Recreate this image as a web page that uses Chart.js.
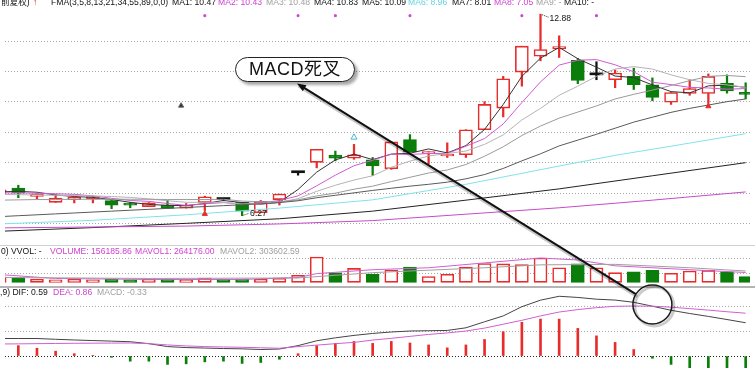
<!DOCTYPE html>
<html><head><meta charset="utf-8">
<script src="https://cdn.jsdelivr.net/npm/chart.js@4.4.1/dist/chart.umd.min.js"></script>
<style>
html,body{margin:0;padding:0;background:#fff;overflow:hidden;}
#wrap{position:relative;width:755px;height:373px;overflow:hidden;font-family:"Liberation Sans",Arial,"Noto Sans CJK SC",sans-serif;}
#c{position:absolute;left:0;top:0;}
.t{position:absolute;white-space:nowrap;font-size:8.6px;line-height:1;color:#111;}
.mg{color:#d040d0;} .gy{color:#a0a0a0;} .cy{color:#5fd3e0;} .rd{color:#e82c2c;font-weight:bold;}
#box{position:absolute;left:235px;top:57px;width:120px;height:25px;box-sizing:border-box;border:1.5px solid #222;border-radius:13px;background:#fff;box-shadow:3px 3px 3px rgba(0,0,0,.35);font-size:18px;line-height:22px;text-align:center;color:#111;letter-spacing:0.5px;font-family:"Liberation Sans","Noto Sans CJK SC",sans-serif;}
</style></head><body>
<div id="wrap">
<canvas id="c" width="755" height="373"></canvas>
<span class="t" style="left:1px;top:-1.6px">前复权)</span>
<span class="t rd" style="left:33px;top:-1.6px">↑</span>
<span class="t" style="left:51px;top:-1.6px">FMA(3,5,8,13,21,34,55,89,0,0)</span>
<span class="t" style="left:172px;top:-1.6px">MA1: 10.47</span>
<span class="t mg" style="left:218px;top:-1.6px">MA2: 10.43</span>
<span class="t gy" style="left:266px;top:-1.6px">MA3: 10.48</span>
<span class="t" style="left:314px;top:-1.6px">MA4: 10.83</span>
<span class="t" style="left:362px;top:-1.6px">MA5: 10.09</span>
<span class="t cy" style="left:408px;top:-1.6px">MA6: 8.96</span>
<span class="t" style="left:452px;top:-1.6px">MA7: 8.01</span>
<span class="t mg" style="left:494px;top:-1.6px">MA8: 7.05</span>
<span class="t gy" style="left:536px;top:-1.6px">MA9: -</span>
<span class="t" style="left:564px;top:-1.6px">MA10: -</span>
<span class="t" style="left:1px;top:247.2px">0) VVOL: -</span>
<span class="t mg" style="left:50px;top:247.2px">VOLUME: 156185.86</span>
<span class="t mg" style="left:135px;top:247.2px">MAVOL1: 264176.00</span>
<span class="t gy" style="left:220px;top:247.2px">MAVOL2: 303602.59</span>
<span class="t" style="left:0px;top:288.2px">,9) DIF: 0.59</span>
<span class="t mg" style="left:53px;top:288.2px">DEA: 0.86</span>
<span class="t gy" style="left:97px;top:288.2px">MACD: -0.33</span>
<span class="t" id="hiLab" style="left:0;top:0"></span>
<span class="t" id="loLab" style="left:0;top:0"></span>
<div id="box">MACD死叉</div>
</div>
<script>
// ---------- data ----------
const dayIdx = [-1,0,1,2,3,4,5,6,7,8,9,10,11,12,13,14,15,16,17,18,19,20,21,22,23,24,25,26,27,28,29,30,31,32,33,34,35,36,37,38,39];
const openP  = [7.00,7.18,6.90,6.71,6.80,6.82,6.77,6.63,6.57,6.62,6.52,6.70,6.80,6.71,6.37,6.80,7.68,8.02,8.26,8.16,8.10,7.81,8.77,8.31,8.23,8.27,9.09,9.80,10.98,11.50,11.74,11.37,10.89,10.73,10.84,10.56,9.99,10.28,10.28,10.61,10.31];
const highP  = [7.15,7.27,6.99,6.96,6.88,6.91,6.77,6.71,6.70,6.78,6.67,6.91,6.84,6.71,6.77,6.98,7.68,8.45,8.39,8.61,8.18,8.69,8.93,8.37,8.66,9.09,10.01,10.84,11.83,12.88,12.17,11.43,11.32,11.05,11.11,10.79,10.31,10.73,10.92,10.89,10.63];
const lowP   = [6.97,6.86,6.82,6.71,6.69,6.69,6.50,6.53,6.57,6.51,6.52,6.44,6.76,6.27,6.37,6.62,7.60,7.84,8.07,8.12,7.59,7.79,8.36,7.97,8.18,8.18,9.09,9.51,10.52,11.35,11.46,10.60,10.73,10.47,10.41,10.04,9.92,10.22,9.95,10.29,10.10];
const closeP = [7.12,7.01,6.98,6.85,6.87,6.90,6.62,6.62,6.69,6.51,6.61,6.89,6.80,6.42,6.74,6.98,7.68,8.45,8.16,8.27,7.90,8.69,8.36,8.33,8.29,9.09,9.92,10.76,11.83,11.72,11.82,10.71,10.89,10.95,10.57,10.15,10.31,10.44,10.84,10.36,10.25];

const ma1 = [7.05,7.07,7.04,6.95,6.90,6.87,6.80,6.71,6.64,6.61,6.60,6.67,6.77,6.70,6.65,6.71,7.13,7.70,8.10,8.29,8.11,8.29,8.32,8.46,8.33,8.57,9.10,9.92,10.84,11.44,11.79,11.42,11.14,10.85,10.80,10.56,10.34,10.30,10.53,10.55,10.48];
const ma2 = [7.02,7.02,7.01,6.99,6.97,6.92,6.84,6.77,6.74,6.67,6.61,6.66,6.70,6.65,6.69,6.77,6.92,7.25,7.60,7.91,8.09,8.29,8.28,8.31,8.31,8.55,8.80,9.28,9.98,10.66,11.21,11.37,11.39,11.22,10.99,10.65,10.57,10.48,10.46,10.42,10.44];
const ma3 = [6.97,6.96,6.95,6.94,6.93,6.92,6.90,6.87,6.82,6.76,6.71,6.71,6.71,6.65,6.66,6.71,6.83,7.07,7.27,7.44,7.58,7.86,8.06,8.23,8.31,8.39,8.61,8.92,9.41,9.79,10.22,10.52,10.84,11.08,11.16,11.08,10.89,10.73,10.61,10.56,10.48];
const ma4 = [6.78,6.79,6.80,6.80,6.81,6.81,6.81,6.81,6.81,6.80,6.80,6.80,6.81,6.75,6.73,6.73,6.79,6.92,7.01,7.14,7.24,7.39,7.53,7.67,7.77,7.95,8.22,8.53,8.90,9.21,9.47,9.67,9.87,10.10,10.25,10.39,10.54,10.70,10.84,10.87,10.83];
const ma5 = [6.24,6.27,6.30,6.33,6.36,6.39,6.42,6.45,6.48,6.51,6.54,6.57,6.60,6.63,6.66,6.70,6.76,6.86,6.94,7.02,7.10,7.17,7.24,7.30,7.37,7.48,7.62,7.82,8.07,8.30,8.56,8.75,8.94,9.14,9.34,9.50,9.66,9.79,9.90,10.01,10.10];
const ma6Idx = [-1,4,9,14,19,24,29,32,35,39];
const ma6Val = [6.00,6.12,6.30,6.52,6.79,7.30,7.90,8.25,8.55,8.96];
const ma7Idx = [-1,4,9,14,19,24,29,34,39];
const ma7Val = [5.76,5.88,6.02,6.17,6.42,6.78,7.15,7.58,8.01];
const ma8Idx = [-1,4,9,14,19,24,29,34,39];
const ma8Val = [5.87,5.90,5.93,6.00,6.11,6.32,6.53,6.78,7.05];

const volume = [150000,130000,86000,70000,78000,70000,86000,70000,78000,86000,70000,112000,86000,86000,78000,112000,190000,676000,252000,372000,216000,330000,408000,156000,216000,408000,502000,494000,476000,650000,390000,494000,390000,260000,278000,320000,242000,304000,320000,278000,156186];
const mavol1Idx = [-1,2,7,12,15,16,19,22,25,28,30,32,34,36,39];
const mavol1Val = [208000,104000,78000,78000,130000,234000,338000,390000,520000,650000,598000,442000,390000,338000,264176];
const mavol2Idx = [-1,7,15,19,25,28,32,36,39];
const mavol2Val = [130000,104000,117000,260000,390000,468000,481000,390000,303603];

const dif  = [0.36,0.36,0.36,0.344,0.33,0.318,0.306,0.294,0.254,0.194,0.174,0.164,0.154,0.148,0.134,0.144,0.214,0.314,0.374,0.424,0.464,0.494,0.514,0.52,0.526,0.58,0.704,0.824,1.014,1.148,1.228,1.204,1.168,1.15,1.104,1.024,0.94,0.874,0.814,0.75,0.684];
const dea  = [0.248,0.25,0.254,0.258,0.262,0.264,0.266,0.268,0.254,0.228,0.208,0.194,0.186,0.18,0.17,0.16,0.194,0.224,0.254,0.28,0.328,0.364,0.404,0.444,0.474,0.514,0.574,0.654,0.734,0.824,0.904,0.954,0.994,1.022,1.028,1.024,1.004,0.974,0.944,0.91,0.88];
const macdHist = [0.24,0.214,0.16,0.10,0.048,0.014,-0.026,-0.106,-0.106,-0.172,-0.16,-0.12,-0.106,-0.152,-0.132,-0.066,0.048,0.214,0.26,0.30,0.26,0.30,0.268,0.228,0.168,0.228,0.34,0.50,0.694,0.76,0.76,0.568,0.414,0.28,0.134,-0.046,-0.172,-0.26,-0.24,-0.26,-0.26];

const priceGrid = [6,7,8,9,10,11,12];
const volGrid = [247000,637000];
const macdGrid = [0,0.514,1.014];

const upArrowIdx = [10,37], upArrowPrice = [6.33,9.86];
const cyanArrowIdx = [18], cyanArrowPrice = [8.84];
const topDotIdx = [10,15,17,21,27,31], topDotPrice = [12.83,12.83,12.83,12.83,12.83,12.83];
const cursorIdx = [8.73], cursorPrice = [9.88];
const annot = {crossIdx: 34.0, crossVal: 1.06, radius: 19.5};

// ---------- styling ----------
const UP='#e82c2c', DN='#0a7d0a', DJ='#111111';
const dir = dayIdx.map((d,k)=> closeP[k]>openP[k]?1:(closeP[k]<openP[k]?-1:0));
const candleCol = dir.map(s=> s>0?UP:(s<0?DN:DJ));
const bodyFill = dir.map(s=> s>0?'#ffffff':(s<0?DN:DJ));
const bodyBW = dir.map(s=> s===0?0:1.6);
const volUp = dayIdx.map((d,k)=> dir[k]!==0 ? dir[k]>0 : (k>0 ? closeP[k]>=closeP[k-1] : true));

const pts = (xs, ys) => xs.map((x,k)=>({x, y: ys[k]}));
const line = (data, color, axis, w) => ({type:'line', data, yAxisID:axis, borderColor:color, borderWidth:w||1, pointRadius:0, tension:0, order:1});
const marker = (data, style, fill, stroke, r, rot) => ({type:'line', data, yAxisID:'yP', showLine:false, pointStyle:style, pointRadius:r, pointBackgroundColor:fill, pointBorderColor:stroke, pointBorderWidth:1, pointRotation:rot||0, order:0});

const gridY = (ticks, range, colorFn) => ({
  type:'linear', position:'left', min:range[0], max:range[1],
  afterBuildTicks: s => { s.ticks = ticks.map(v=>({value:v})); },
  ticks:{display:false}, grid:{drawTicks:false, color: colorFn || '#a8a8a8', lineWidth:1},
  border:{display:false, dash:[1,2]}
});

const deco = {
  id:'deco',
  afterDraw(chart){
    const ctx = chart.ctx, X = chart.scales.x, YP = chart.scales.yP, YM = chart.scales.yM;
    ctx.save();
    ctx.fillStyle = '#d0d0d0'; ctx.fillRect(0,245,755,1);
    ctx.fillStyle = '#b4b4b4'; ctx.fillRect(0,286,755,2);
    const hk = highP.indexOf(Math.max(...highP)), lk = lowP.indexOf(Math.min(...lowP));
    const hx = X.getPixelForValue(dayIdx[hk]), hy = YP.getPixelForValue(highP[hk]);
    const lx = X.getPixelForValue(dayIdx[lk]), ly = YP.getPixelForValue(lowP[lk]);
    ctx.strokeStyle = '#333'; ctx.lineWidth = 1; ctx.setLineDash([1,1]);
    ctx.beginPath(); ctx.moveTo(hx+1.5, hy+0.5); ctx.lineTo(hx+8, hy+3); ctx.stroke();
    ctx.beginPath(); ctx.moveTo(lx+1.5, ly-0.5); ctx.lineTo(lx+7, ly-2.5); ctx.stroke();
    ctx.setLineDash([]);
    const cx = X.getPixelForValue(annot.crossIdx), cy = YM.getPixelForValue(annot.crossVal), r = annot.radius;
    ctx.strokeStyle = 'rgba(0,0,0,0.2)'; ctx.lineWidth = 3;
    ctx.beginPath(); ctx.arc(cx+2, cy+2, r, 0, Math.PI*2); ctx.stroke();
    ctx.strokeStyle = '#1a1a1a'; ctx.lineWidth = 1.5;
    ctx.beginPath(); ctx.arc(cx, cy, r, 0, Math.PI*2); ctx.stroke();
    const box = document.getElementById('box');
    const sx = box.offsetLeft + 62, sy = box.offsetTop + box.offsetHeight + 1.5;
    const dx = sx - cx, dy = sy - cy, dl = Math.hypot(dx, dy);
    const ex = cx + dx/dl*r, ey = cy + dy/dl*r;
    ctx.strokeStyle = 'rgba(0,0,0,0.22)'; ctx.lineWidth = 3;
    ctx.beginPath(); ctx.moveTo(sx+1.5, sy+2.5); ctx.lineTo(ex+1.5, ey+2.5); ctx.stroke();
    ctx.strokeStyle = '#111'; ctx.lineWidth = 2;
    ctx.beginPath(); ctx.moveTo(sx+4, sy+2.4); ctx.lineTo(ex, ey); ctx.stroke();
    const ux = (ex-sx)/Math.hypot(ex-sx,ey-sy), uy = (ey-sy)/Math.hypot(ex-sx,ey-sy);
    ctx.fillStyle = '#111';
    ctx.beginPath(); ctx.moveTo(sx, sy);
    ctx.lineTo(sx + ux*9 - uy*3.5, sy + uy*9 + ux*3.5);
    ctx.lineTo(sx + ux*9 + uy*3.5, sy + uy*9 - ux*3.5);
    ctx.closePath(); ctx.fill();
    ctx.restore();
  }
};

const chart = new Chart(document.getElementById('c'), {
  type:'bar',
  data:{ datasets:[
    {type:'bar', yAxisID:'yP', data: dayIdx.map((d,k)=>({x:d, y:[lowP[k], highP[k]]})), backgroundColor:candleCol, barThickness:1.6, grouped:false, order:6},
    {type:'bar', yAxisID:'yP', data: dayIdx.map((d,k)=>({x:d, y:[openP[k], closeP[k]]})), backgroundColor:bodyFill, borderColor:candleCol, borderWidth:bodyBW, borderSkipped:false, minBarLength:2, barThickness:13, grouped:false, order:5},
    {type:'bar', yAxisID:'yV', data: pts(dayIdx, volume), backgroundColor: volUp.map(u=>u?'#ffffff':DN), borderColor: volUp.map(u=>u?UP:DN), borderWidth:1.6, borderSkipped:false, barThickness:13, grouped:false, order:5},
    {type:'bar', yAxisID:'yM', data: pts(dayIdx, macdHist), backgroundColor: macdHist.map(v=>v>=0?UP:DN), barThickness:2, grouped:false, order:5},
    line(pts(ma8Idx, ma8Val), '#c84ac8', 'yP'),
    line(pts(ma7Idx, ma7Val), '#222222', 'yP'),
    line(pts(ma6Idx, ma6Val), '#7fe3ea', 'yP'),
    line(pts(dayIdx, ma5), '#5a5a5a', 'yP'),
    line(pts(dayIdx, ma4), '#9a9a9a', 'yP'),
    line(pts(dayIdx, ma3), '#b4b4b4', 'yP'),
    line(pts(dayIdx, ma2), '#d25ad2', 'yP'),
    line(pts(dayIdx, ma1), '#333333', 'yP'),
    line(pts(mavol2Idx, mavol2Val), '#a0a0a0', 'yV'),
    line(pts(mavol1Idx, mavol1Val), '#d060d0', 'yV'),
    line(pts(dayIdx, dea), '#d060d0', 'yM'),
    line(pts(dayIdx, dif), '#444444', 'yM'),
    marker(pts(upArrowIdx, upArrowPrice), 'triangle', UP, UP, 3),
    marker(pts(cyanArrowIdx, cyanArrowPrice), 'triangle', '#ffffff', '#49b6d6', 3.5),
    marker(pts(topDotIdx, topDotPrice), 'rect', '#d040d0', '#d040d0', 1.3),
    marker(pts(cursorIdx, cursorPrice), 'triangle', '#333', '#666', 3)
  ]},
  options:{
    responsive:false, animation:false, events:[],
    layout:{padding:0},
    plugins:{legend:{display:false}, tooltip:{enabled:false}},
    scales:{
      x:{type:'linear', min:-0.714, max:39.233, display:false, offset:false},
      yP: gridY(priceGrid, [1.2755, 13.181]),
      yV: gridY(volGrid, [-2288000, 7410000]),
      yM: gridY(macdGrid, [-0.246, 7.214], c => c.tick && c.tick.value===0 ? '#222' : '#a8a8a8')
    }
  },
  plugins:[deco]
});

(function(){
  const X = chart.scales.x, YP = chart.scales.yP;
  const hk = highP.indexOf(Math.max(...highP)), lk = lowP.indexOf(Math.min(...lowP));
  const hi = document.getElementById('hiLab'), lo = document.getElementById('loLab');
  hi.textContent = highP[hk].toFixed(2); lo.textContent = lowP[lk].toFixed(2);
  hi.style.left = (X.getPixelForValue(dayIdx[hk]) + 9) + 'px';
  hi.style.top = (YP.getPixelForValue(highP[hk]) + 0) + 'px';
  lo.style.left = (X.getPixelForValue(dayIdx[lk]) + 8) + 'px';
  lo.style.top = (YP.getPixelForValue(lowP[lk]) - 7) + 'px';
})();
</script>
</body></html>
